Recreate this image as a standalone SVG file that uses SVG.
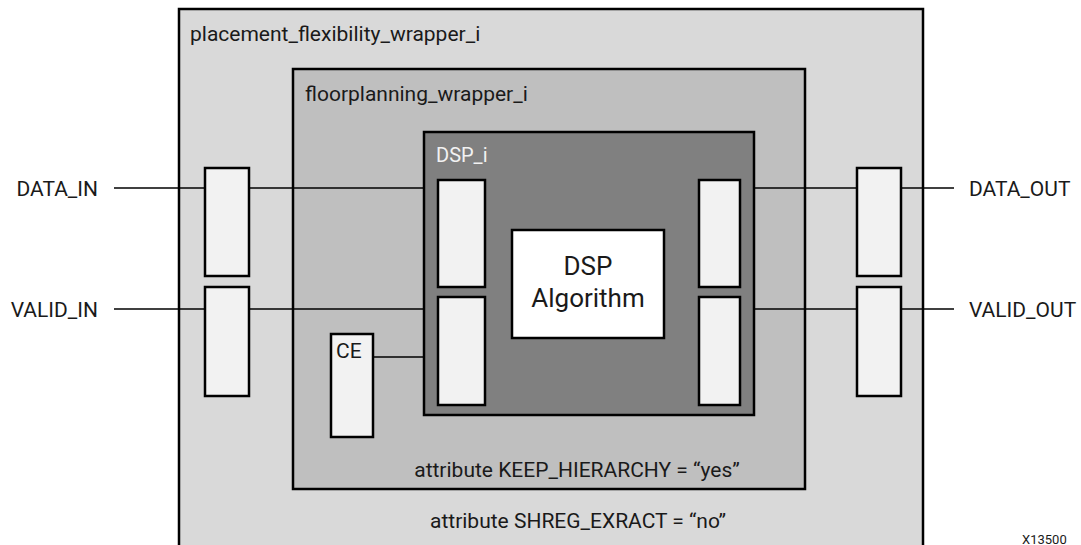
<svg xmlns="http://www.w3.org/2000/svg" width="1081" height="545" viewBox="0 0 1081 545">
<style>
text{font-family:Roboto,"Liberation Sans",sans-serif;fill:#1a1a1a}
.box{stroke:#000;stroke-width:2.5}
.reg{fill:#f2f2f2;stroke:#000;stroke-width:2.5}
.w{stroke:#000;stroke-width:1.3;fill:none}
.t18{font-size:21px}
</style>
<rect width="1081" height="545" fill="#fff"/>
<g id="placement_flexibility_wrapper_i">
<rect class="box" x="179" y="9" width="744" height="560" fill="#d9d9d9"/>
<text class="t18" x="190" y="41">placement_flexibility_wrapper_i</text>
<text class="t18" x="578" y="528" text-anchor="middle">attribute SHREG_EXRACT = “no”</text>
</g>
<g id="floorplanning_wrapper_i">
<rect class="box" x="293" y="69" width="512" height="420" fill="#bfbfbf"/>
<text class="t18" x="305" y="101">floorplanning_wrapper_i</text>
<text class="t18" x="577" y="477" text-anchor="middle">attribute KEEP_HIERARCHY = “yes”</text>
</g>
<g id="connectors">
<line class="w" x1="114" y1="188" x2="205" y2="188"/>
<line class="w" x1="249" y1="188" x2="424" y2="188"/>
<line class="w" x1="114" y1="309" x2="205" y2="309"/>
<line class="w" x1="249" y1="309" x2="424" y2="309"/>
<line class="w" x1="373" y1="357" x2="424" y2="357"/>
<line class="w" x1="754" y1="188" x2="857" y2="188"/>
<line class="w" x1="901" y1="188" x2="954" y2="188"/>
<line class="w" x1="754" y1="309" x2="857" y2="309"/>
<line class="w" x1="901" y1="309" x2="954" y2="309"/>
</g>
<g id="DSP_i">
<rect class="box" x="424" y="132" width="330" height="283" fill="#808080"/>
<text x="436" y="162" font-size="20" style="fill:#f2f2f2">DSP_i</text>
</g>
<g id="in_reg_data"><rect class="reg" x="205" y="168" width="44" height="108"/></g>
<g id="in_reg_valid"><rect class="reg" x="205" y="287" width="44" height="109"/></g>
<g id="out_reg_data"><rect class="reg" x="857" y="168" width="44" height="108"/></g>
<g id="out_reg_valid"><rect class="reg" x="857" y="287" width="44" height="109"/></g>
<g id="dsp_in_reg_data"><rect class="reg" x="438" y="180" width="47" height="107"/></g>
<g id="dsp_in_reg_valid"><rect class="reg" x="438" y="297" width="47" height="108"/></g>
<g id="dsp_out_reg_data"><rect class="reg" x="699" y="180" width="41" height="107"/></g>
<g id="dsp_out_reg_valid"><rect class="reg" x="699" y="297" width="41" height="108"/></g>
<g id="CE">
<rect class="reg" x="331" y="334" width="42" height="103"/>
<text class="t18" x="336" y="358">CE</text>
</g>
<g id="dsp_algorithm">
<rect class="box" x="512" y="230" width="152" height="108" fill="#fff"/>
<text x="588" y="275" text-anchor="middle" font-size="26">DSP</text>
<text x="588" y="307" text-anchor="middle" font-size="26">Algorithm</text>
</g>
<g id="ports">
<text class="t18" x="98" y="196" text-anchor="end">DATA_IN</text>
<text class="t18" x="98" y="317" text-anchor="end">VALID_IN</text>
<text class="t18" x="969" y="196">DATA_OUT</text>
<text class="t18" x="969" y="317">VALID_OUT</text>
</g>
<text x="1022" y="544" font-size="13">X13500</text>
</svg>
